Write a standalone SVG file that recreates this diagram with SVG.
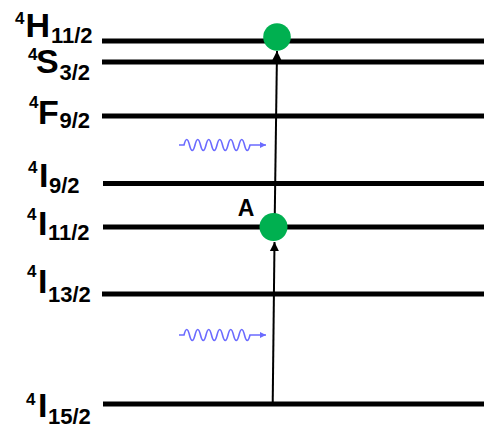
<svg xmlns="http://www.w3.org/2000/svg" width="484" height="428" viewBox="0 0 484 428">
<style>
.lvl{stroke:#000;stroke-width:5;fill:none}
.lbl{font-family:"Liberation Sans",Arial,sans-serif;font-weight:bold;fill:#000}
.big{font-size:34px}
.sub{font-size:22px}
.sup{font-size:17px}
.arr{stroke:#000;stroke-width:2;fill:none}
.wave{stroke:#6b6bff;stroke-width:1.6;fill:none}
.dot{fill:#00b050}
</style>
<defs>
<marker id="ah" viewBox="0 0 10 10" refX="10" refY="5" markerWidth="9" markerHeight="10" markerUnits="userSpaceOnUse" orient="auto">
<path d="M0,0 L10,5 L0,10 Z" fill="#000"/>
</marker>
<marker id="wh" viewBox="0 0 10 10" refX="10" refY="5" markerWidth="6" markerHeight="6" markerUnits="userSpaceOnUse" orient="auto">
<path d="M0,0 L10,5 L0,10 Z" fill="#6b6bff"/>
</marker>
</defs>
<g id="level-H11">
<line class="lvl" x1="102" y1="41" x2="484" y2="41"/>
<text class="lbl"><tspan class="sup" x="15" y="24">4</tspan><tspan class="big" x="25.5" y="37">H</tspan><tspan class="sub" x="51" y="43">11/2</tspan></text>
</g>
<g id="level-S32">
<line class="lvl" x1="102" y1="62" x2="484" y2="62"/>
<text class="lbl"><tspan class="sup" x="28" y="60">4</tspan><tspan class="big" x="36" y="73">S</tspan><tspan class="sub" x="59.5" y="80">3/2</tspan></text>
</g>
<g id="level-F92">
<line class="lvl" x1="102" y1="116" x2="484" y2="116"/>
<text class="lbl"><tspan class="sup" x="29" y="108">4</tspan><tspan class="big" x="38" y="124">F</tspan><tspan class="sub" x="59.5" y="128">9/2</tspan></text>
</g>
<g id="level-I92">
<line class="lvl" x1="103" y1="183.5" x2="484" y2="183.5"/>
<text class="lbl"><tspan class="sup" x="28" y="173">4</tspan><tspan class="big" x="39" y="187">I</tspan><tspan class="sub" x="49" y="193">9/2</tspan></text>
</g>
<g id="level-I112">
<line class="lvl" x1="103" y1="227" x2="484" y2="227"/>
<text class="lbl"><tspan class="sup" x="27" y="220">4</tspan><tspan class="big" x="38" y="235">I</tspan><tspan class="sub" x="48" y="240">11/2</tspan></text>
</g>
<g id="level-I132">
<line class="lvl" x1="102" y1="294" x2="484" y2="294"/>
<text class="lbl"><tspan class="sup" x="27" y="277">4</tspan><tspan class="big" x="38" y="293">I</tspan><tspan class="sub" x="48" y="302">13/2</tspan></text>
</g>
<g id="level-I152">
<line class="lvl" x1="103" y1="404" x2="484" y2="404"/>
<text class="lbl"><tspan class="sup" x="26" y="405">4</tspan><tspan class="big" x="38" y="417">I</tspan><tspan class="sub" x="48" y="423.5">15/2</tspan></text>
</g>
<g id="connectors">
<line class="arr" x1="272.7" y1="404" x2="274.5" y2="242" marker-end="url(#ah)"/>
<line class="arr" x1="274.6" y1="227" x2="277" y2="51" marker-end="url(#ah)"/>
<path class="wave" d="M179,145 L184,145 q2.75,-11 5.5,0 t5.5,0 t5.5,0 t5.5,0 t5.5,0 t5.5,0 t5.5,0 t5.5,0 t5.5,0 t5.5,0 t5.5,0 t5.5,0 L266,145" marker-end="url(#wh)"/>
<path class="wave" d="M179,335 L184,335 q2.75,-11 5.5,0 t5.5,0 t5.5,0 t5.5,0 t5.5,0 t5.5,0 t5.5,0 t5.5,0 t5.5,0 t5.5,0 t5.5,0 t5.5,0 L266,335" marker-end="url(#wh)"/>
</g>
<g id="dot-top"><circle class="dot" cx="277" cy="37" r="13.8"/></g>
<g id="dot-A"><circle class="dot" cx="273.5" cy="227" r="14"/></g>
<g id="label-A"><text class="lbl" x="246" y="215.5" font-size="23" text-anchor="middle">A</text></g>
</svg>
